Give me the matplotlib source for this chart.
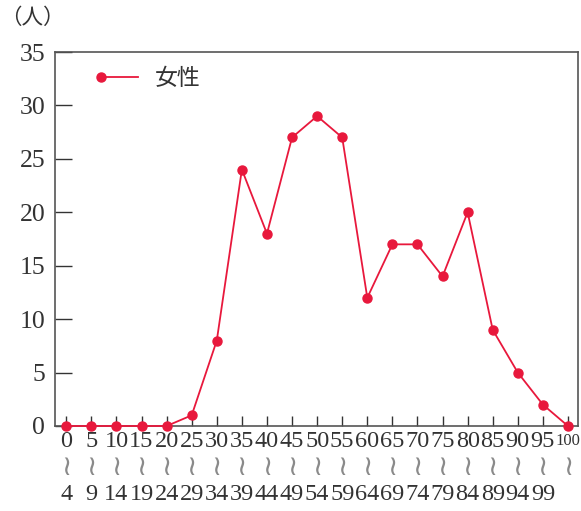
import matplotlib
matplotlib.use("Agg")
import matplotlib.pyplot as plt
from matplotlib.legend_handler import HandlerLine2D
import matplotlib.transforms as mtransforms

starts = [0, 5, 10, 15, 20, 25, 30, 35, 40, 45, 50, 55, 60, 65, 70, 75, 80, 85, 90, 95, 100]
ends = [4, 9, 14, 19, 24, 29, 34, 39, 44, 49, 54, 59, 64, 69, 74, 79, 84, 89, 94, 99, None]
female = [0, 0, 0, 0, 0, 1, 8, 24, 18, 27, 29, 27, 12, 17, 17, 14, 20, 9, 5, 2, 0]
yticks = [0, 5, 10, 15, 20, 25, 30, 35]
series_label = "女性"
unit_label = "（人）"

RED = "#e8183c"
TXT = "#333333"
NUM_FONT = ["Liberation Serif", "DejaVu Serif"]
CJK_FONT = ["Noto Sans CJK JP", "DejaVu Sans"]
WAVE_FONT = ["DejaVu Sans", "Noto Sans CJK JP", "DejaVu Serif"]
NUM_FS = 17.5

fig = plt.figure(figsize=(5.81, 5.11), dpi=100)
ax = fig.add_axes([55 / 581, 1 - 426 / 511, (578 - 55) / 581, (426 - 52) / 511])

x = list(range(len(starts)))
ax.plot(x, female, color=RED, lw=1.3, marker="o", ms=6.5, mec=RED, mfc=RED,
        label=series_label, clip_on=False, zorder=3)

ax.set_xlim(-0.45, len(starts) - 1 + 0.4)
ax.set_ylim(0, 35)
ax.set_yticks(yticks)
ax.set_yticklabels([str(v) for v in yticks], fontfamily=NUM_FONT, fontsize=18.5, color=TXT)
ax.set_xticks(x)
ax.set_xticklabels([])
ax.tick_params(axis="y", direction="in", length=12, width=1, pad=7, colors=TXT)
ax.tick_params(axis="x", direction="in", length=7, width=1, colors=TXT)
for s in ax.spines.values():
    s.set_color("#555555")
    s.set_linewidth(1.2)

trans = mtransforms.blended_transform_factory(ax.transData, fig.transFigure)
for i, (s, e) in enumerate(zip(starts, ends)):
    label = str(s)
    fs = NUM_FS if len(label) < 3 else 12
    ax.text(i, 1 - 441 / 511, label, transform=trans, ha="center", va="center",
            fontfamily=NUM_FONT, fontsize=fs, color=TXT)
    ax.text(i, 1 - 467 / 511, "≀", transform=trans, ha="center", va="center",
            fontfamily=WAVE_FONT, fontsize=20, color="#8a8a8a")
    if e is not None:
        ax.text(i, 1 - 494 / 511, str(e), transform=trans, ha="center", va="center",
                fontfamily=NUM_FONT, fontsize=NUM_FS, color=TXT)

fig.text(0 / 581, 1 - 18 / 511, unit_label, ha="left", va="center",
         fontfamily=CJK_FONT, fontsize=15.5, color=TXT)


class LeftMarkerHandler(HandlerLine2D):
    def create_artists(self, legend, orig_handle, xdescent, ydescent, width, height, fontsize, trans):
        artists = super().create_artists(legend, orig_handle, xdescent, ydescent, width, height, fontsize, trans)
        if len(artists) == 1:
            artists[0].set_markevery([0])
        else:
            line, mk = artists[0], artists[1]
            xd = line.get_xdata()
            mk.set_data([xd[0]], [line.get_ydata()[0]])
        return artists


leg = ax.legend(loc="center left", bbox_to_anchor=(0.0746, 0.930), frameon=False,
                borderpad=0, borderaxespad=0,
                handler_map={plt.Line2D: LeftMarkerHandler(numpoints=2)},
                prop={"family": CJK_FONT, "size": 16.5}, handlelength=2.2, handletextpad=0.44)
for t in leg.get_texts():
    t.set_color(TXT)

fig.savefig("out.png", dpi=100)
